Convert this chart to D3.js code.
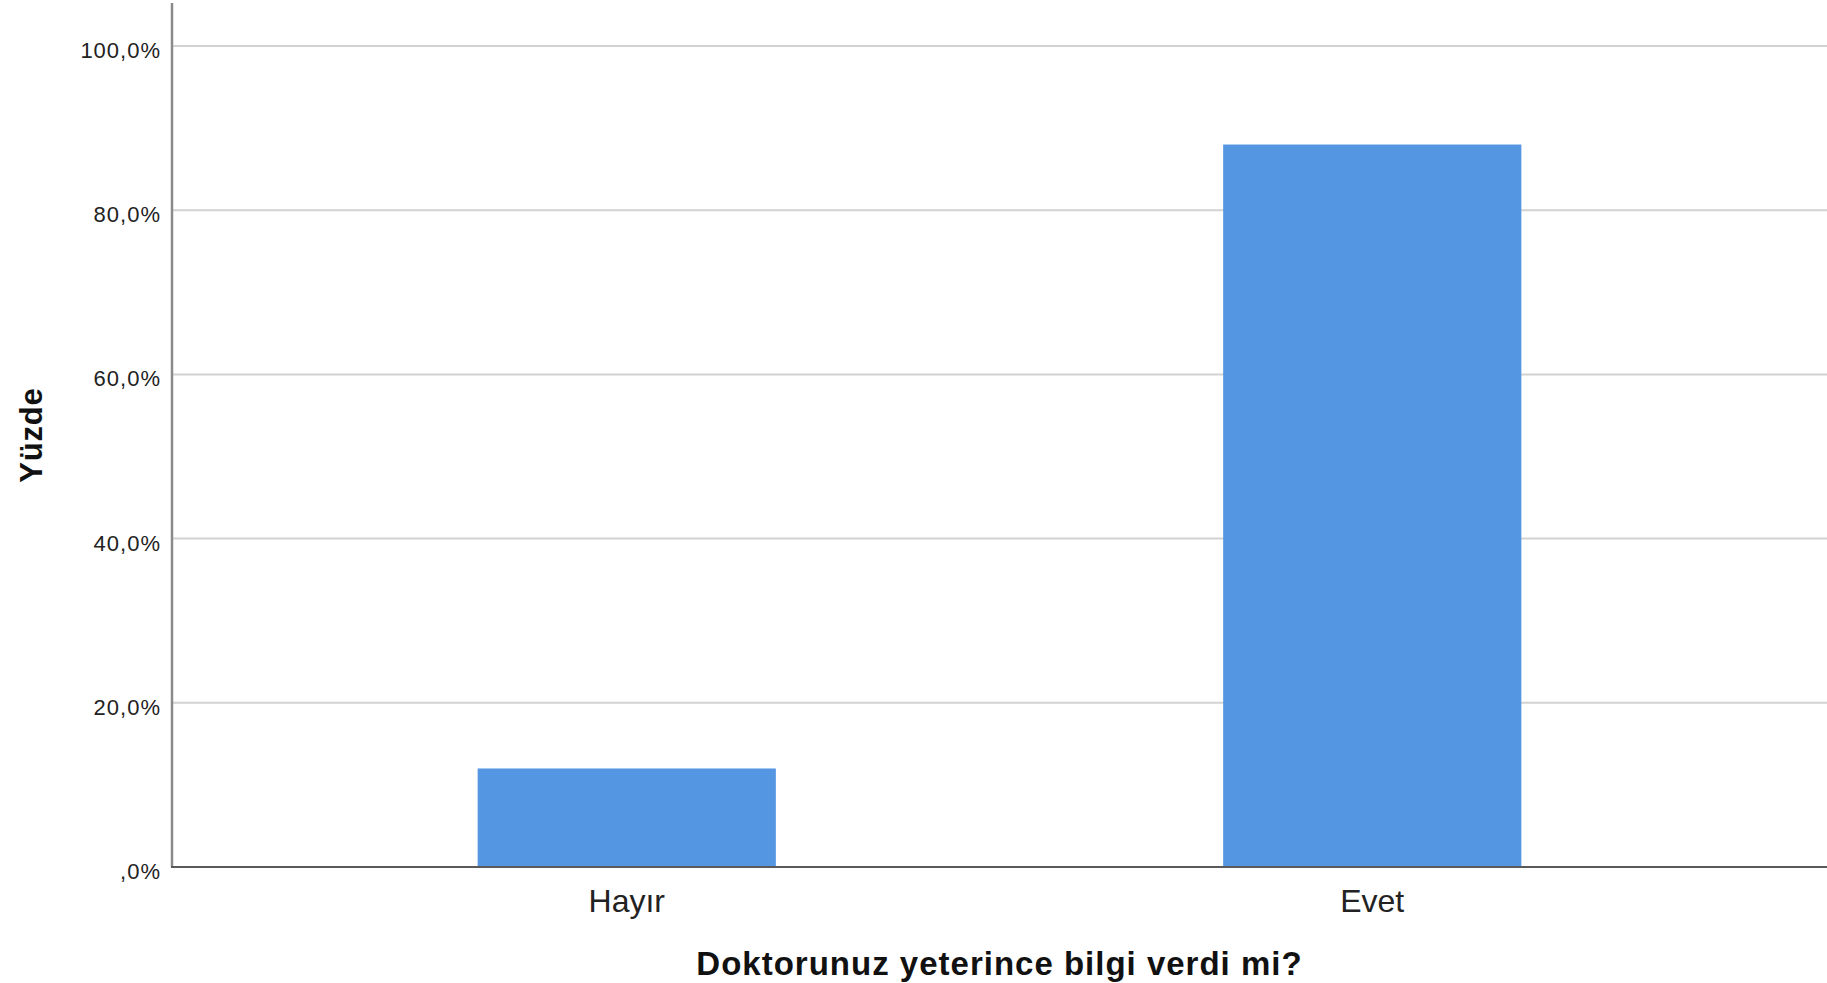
<!DOCTYPE html>
<html>
<head>
<meta charset="utf-8">
<script src="https://cdn.jsdelivr.net/npm/d3@7"></script>
<style>
  html, body { margin: 0; padding: 0; background: #fff; }
  svg { display: block; }
</style>
</head>
<body>
<svg id="chart" width="1827" height="983"></svg>
<script>
const categories = ["Hayır", "Evet"];
const values = [12.0, 88.0];
const yTicks = [0, 20, 40, 60, 80, 100];
const yTickLabels = [",0%", "20,0%", "40,0%", "60,0%", "80,0%", "100,0%"];
const xTitle = "Doktorunuz yeterince bilgi verdi mi?";
const yTitle = "Yüzde";

(function () {
const svg = d3.select("#chart");
const plotLeft = 172, plotRight = 1827, plotTop = 3, baseY = 867;

const y = d3.scaleLinear().domain([0, 100]).range([baseY, 46]);
const x = d3.scaleBand().domain(categories).range([plotLeft, plotRight])
  .paddingInner(0.6).paddingOuter(0.41);

const font = "'Liberation Sans', Arial, sans-serif";

// gridlines
svg.append("g").selectAll("line").data(yTicks.filter(d => d > 0)).join("line")
  .attr("x1", plotLeft).attr("x2", plotRight)
  .attr("y1", d => y(d)).attr("y2", d => y(d))
  .attr("stroke", "#d2d2d2").attr("stroke-width", 2);

// bars
svg.append("g").selectAll("rect").data(categories).join("rect")
  .attr("x", d => x(d))
  .attr("y", (d, i) => y(values[i]))
  .attr("width", x.bandwidth())
  .attr("height", (d, i) => y(0) - y(values[i]))
  .attr("fill", "#5596e3");

// y axis line
svg.append("line").attr("x1", plotLeft).attr("x2", plotLeft).attr("y1", plotTop).attr("y2", baseY)
  .attr("stroke", "#8a8a8a").attr("stroke-width", 2.5);
// baseline
svg.append("line").attr("x1", plotLeft - 1).attr("x2", plotRight).attr("y1", baseY).attr("y2", baseY)
  .attr("stroke", "#5a5a5a").attr("stroke-width", 2);

// y tick labels
svg.append("g").selectAll("text").data(yTicks).join("text")
  .attr("x", 161).attr("y", d => y(d) + 12)
  .attr("text-anchor", "end")
  .attr("font-family", font).attr("font-size", 22).attr("fill", "#222")
  .attr("letter-spacing", 1)
  .text((d, i) => yTickLabels[i]);

// category labels
svg.append("g").selectAll("text").data(categories).join("text")
  .attr("x", d => x(d) + x.bandwidth() / 2).attr("y", 912)
  .attr("text-anchor", "middle")
  .attr("font-family", font).attr("font-size", 32).attr("fill", "#222")
  .text(d => d);

// x title
svg.append("text").attr("x", (plotLeft + plotRight) / 2).attr("y", 975)
  .attr("text-anchor", "middle").attr("font-family", font)
  .attr("font-size", 33).attr("font-weight", "bold").attr("fill", "#111")
  .attr("letter-spacing", 1)
  .text(xTitle);

// y title
svg.append("text").attr("transform", `translate(42,${(plotTop + baseY) / 2}) rotate(-90)`)
  .attr("text-anchor", "middle").attr("font-family", font)
  .attr("font-size", 31).attr("font-weight", "bold").attr("fill", "#111")
  .attr("letter-spacing", 0.8)
  .text(yTitle);
})();
</script>
</body>
</html>
